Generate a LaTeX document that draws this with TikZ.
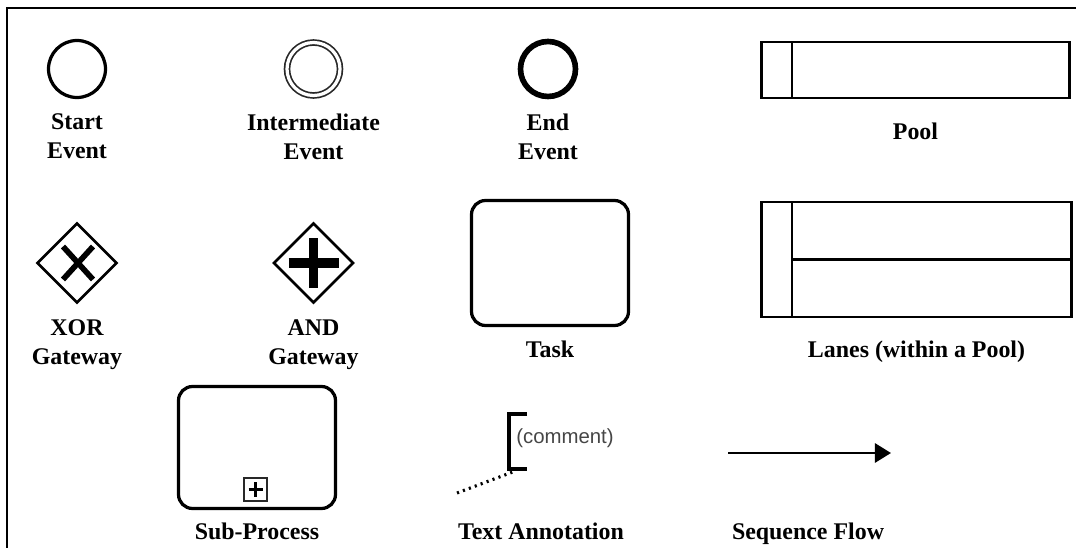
\documentclass[tikz,border=0pt]{standalone}
\usepackage{fontspec}
\setmainfont{Liberation Serif}
\newfontfamily\annofont{Liberation Sans}
\usepackage{tikz}
\usetikzlibrary{arrows.meta}
\usetikzlibrary{calc}
\usetikzlibrary{positioning}
\usetikzlibrary{shapes.geometric}
\definecolor{RingGray}{RGB}{40,40,40}
\definecolor{NoteGray}{RGB}{70,70,70}
\tikzset{
	frame/.style={black, line width=3.2pt},
	lbl/.style={font=\bfseries\fontsize{34}{41}\selectfont, align=center, inner sep=0pt},
	startev/.style={circle, draw, line width=4.6pt, minimum size=2.85cm, inner sep=0pt, outer sep=0pt},
	midev/.style={circle, draw=RingGray, line width=2.4pt, double=white, double distance=4.6pt, minimum size=2.65cm, inner sep=0pt, outer sep=0pt},
	endev/.style={circle, draw, line width=8pt, minimum size=2.75cm, inner sep=0pt, outer sep=0pt},
	gateway/.style={diamond, draw, line width=4pt, minimum width=3.95cm, minimum height=3.95cm, inner sep=0pt, outer sep=0pt},
	gatemark/.style={black, line width=8pt},
	taskbox/.style={rectangle, draw, rounded corners=0.7cm, line width=4.6pt, minimum width=7.85cm, minimum height=6.25cm, inner sep=0pt, outer sep=0pt},
	poolbox/.style={rectangle, draw, line width=3.3pt, minimum width=15.4cm, inner sep=0pt, outer sep=0pt},
	plusbox/.style={rectangle, draw=RingGray, line width=2.4pt, minimum size=1.15cm, inner sep=0pt, outer sep=0pt},
	bracket/.style={black, line width=5pt},
	assoc/.style={black, line width=4.4pt, dash pattern=on 3pt off 6pt},
	seqflow/.style={black, line width=4.2pt, -{Triangle[length=22.8pt, width=27pt]}},
	note/.style={font=\annofont\fontsize{29}{34}\selectfont, text=NoteGray, inner sep=0pt},
}

\begin{document}
\begin{tikzpicture}[x=0.05cm, y=-0.05cm]
	\useasboundingbox (0,0) rectangle (1076,548);
	
	% Frame (top and left edge only)
	\draw[frame] (7,548) -- (7,8) -- (1076,8);
	
	% Events
	\node[startev] (start) at (77,69) {};
	\node[lbl, below=0.8cm of start] (startlbl) {Start\\Event};
	
	\node[midev] (inter) at (313.5,69) {};
	\node[lbl, below=0.9cm of inter] (interlbl) {Intermediate\\Event};
	
	\node[endev] (end) at (548,69) {};
	\node[lbl, below=0.85cm of end] (endlbl) {End\\Event};
	
	% Pool
	\node[poolbox, minimum height=2.8cm] (pool) at (915.5,70) {};
	\draw[line width=3.3pt] ($(pool.north west)+(30.5,0)$) -- ($(pool.south west)+(30.5,0)$);
	\node[lbl, below=1.25cm of pool] (poollbl) {Pool};
	
	% Gateways
	\node[gateway] (xor) at (77,263) {};
	\draw[gatemark] ($(xor)+(-14,-16.5)$) -- ($(xor)+(16,16.5)$);
	\draw[gatemark] ($(xor)+(16,-16.5)$) -- ($(xor)+(-14,16.5)$);
	\node[lbl, below=0.85cm of xor] (xorlbl) {XOR\\Gateway};
	
	\node[gateway] (and) at (313.5,263) {};
	\draw[gatemark, line width=14pt] ($(and)+(-25,0)$) -- ($(and)+(25,0)$);
	\draw[gatemark, line width=14pt] ($(and)+(0,-24.5)$) -- ($(and)+(0,24.5)$);
	\node[lbl, below=0.85cm of and] (andlbl) {AND\\Gateway};
	
	% Task
	\node[taskbox] (task) at (550,263) {};
	\node[lbl, below=0.75cm of task] (tasklbl) {Task};
	
	% Lanes
	\node[poolbox, minimum width=15.5cm, minimum height=5.75cm] (lanes) at (916.5,259.5) {};
	\draw[line width=3.3pt] ($(lanes.north west)+(30.5,0)$) -- ($(lanes.south west)+(30.5,0)$);
	\draw[line width=3.3pt] ($(lanes.west)+(30.5,0)$) -- (lanes.east);
	\node[lbl, below=1.175cm of lanes] (laneslbl) {Lanes (within a Pool)};
	
	% Sub-process
	\node[taskbox, minimum height=6.1cm] (sub) at (257,447.5) {};
	\node[plusbox] (subplus) at ($(sub.south)+(-1.5,-19)$) {};
	\draw[line width=3.6pt] ($(subplus)+(-7,0)$) -- ($(subplus)+(7,0)$);
	\draw[line width=3.6pt] ($(subplus)+(0,-7)$) -- ($(subplus)+(0,7)$);
	\node[lbl, below=0.7cm of sub] (sublbl) {Sub-Process};
	
	% Text annotation
	\node[note] (comment) at (565,438) {(comment)};
	\coordinate (annotop) at (527,414);
	\coordinate (annobot) at (527,469);
	\draw[bracket] (annotop) -- (509,414) -- (509,469) -- (annobot);
	\coordinate (assocend) at (457,493);
	\draw[assoc] (assocend) -- (514,471.5);
	\node[lbl, anchor=north] (annolbl) at (541,522.5) {Text Annotation};
	
	% Sequence flow
	\coordinate (flowstart) at (728,453);
	\coordinate (flowend) at (891,453);
	\draw[seqflow] (flowstart) -- (flowend);
	\node[lbl, anchor=north] (flowlbl) at (808,522.5) {Sequence Flow};
\end{tikzpicture}
\end{document}
